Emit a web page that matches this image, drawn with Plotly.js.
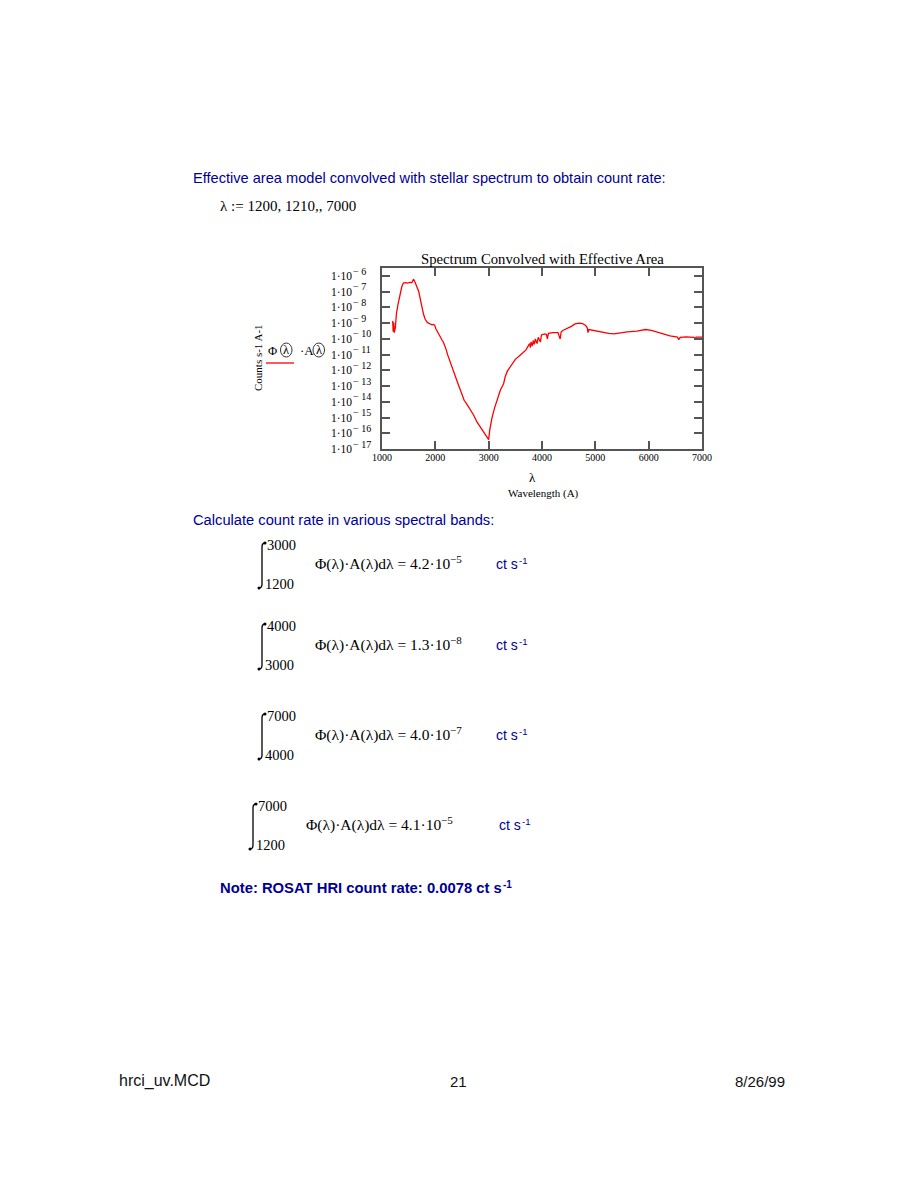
<!DOCTYPE html>
<html>
<head>
<meta charset="utf-8">
<script src="https://cdn.plot.ly/plotly-3.0.1.min.js"></script>
<style>
  body { margin:0; padding:0; background:#fff; }
  #chart { width:918px; height:1188px; }
</style>
</head>
<body>
<div id="chart"></div>
<script>
// ---- data ----
const wavelength = [
  1200,1210,1220,1230,1250,1270,1300,1320,1345,1370,1400,1440,1480,1520,1560,1590,1620,1650,1690,1720,
  1750,1780,1810,1850,1900,1940,1970,1990,2010,2060,2100,2130,2150,2170,2200,2230,2280,2340,2420,2480,
  2540,2600,2660,2720,2780,2840,2900,2960,3000,3020,3060,3110,3160,3220,3280,3310,3350,3400,3500,3600,
  3700,3750,3770,3782,3795,3820,3835,3857,3875,3907,3930,3970,3990,4050,4083,4101,4120,4200,4300,4340,
  4360,4400,4470,4550,4620,4700,4760,4820,4850,4862,4880,4950,5050,5150,5250,5350,5470,5600,5780,5940,
  6050,6220,6400,6540,6563,6590,6700,6850,6870,6890,7000
];
const countRate = [
  1.41e-9,2.82e-10,1.12e-9,2.51e-10,5.0e-10,3.98e-9,1.58e-8,3.16e-8,1.0e-7,2.0e-7,3.55e-7,3.8e-7,3.55e-7,3.98e-7,3.8e-7,6.31e-7,3.98e-7,2.0e-7,1.0e-7,3.16e-8,
  1.0e-8,3.55e-9,1.78e-9,1.12e-9,8.91e-10,7.94e-10,8.32e-10,7.08e-10,4.47e-10,2.0e-10,1.26e-10,7.94e-11,6.31e-11,3.55e-11,2.24e-11,1.0e-11,3.16e-12,7.08e-13,1.58e-13,4.47e-14,
  1.26e-14,6.31e-15,3.16e-15,1.41e-15,5.25e-16,2.51e-16,1.26e-16,6.31e-17,3.98e-17,1.58e-16,8.91e-16,3.98e-15,1.26e-14,5.62e-14,1.41e-13,3.98e-13,8.91e-13,1.58e-12,5.01e-12,1.0e-11,
  2.0e-11,3.98e-11,5.01e-11,2.82e-11,6.31e-11,3.55e-11,7.94e-11,4.47e-11,1.0e-10,5.01e-11,1.26e-10,6.31e-11,1.78e-10,2.09e-10,1.91e-10,1.0e-10,2.24e-10,2.51e-10,2.51e-10,1.0e-10,
  2.82e-10,3.55e-10,4.47e-10,6.31e-10,8.91e-10,1.0e-9,9.55e-10,7.08e-10,5.01e-10,2.51e-10,3.98e-10,3.55e-10,3.02e-10,2.51e-10,2.24e-10,2.09e-10,2.51e-10,2.82e-10,3.16e-10,3.98e-10,
  3.55e-10,2.29e-10,1.58e-10,1.32e-10,8.91e-11,1.26e-10,1.35e-10,1.26e-10,1.0e-10,1.32e-10,1.32e-10
];
const xTickVals = [1000,2000,3000,4000,5000,6000,7000];
const yExponents = [-6,-7,-8,-9,-10,-11,-12,-13,-14,-15,-16,-17];
const yTickVals = [1e-6,1e-7,1e-8,1e-9,1e-10,1e-11,1e-12,1e-13,1e-14,1e-15,1e-16,1e-17];
const yTickBase = '1\u00B710';

const chartTitle = 'Spectrum Convolved with Effective Area';
const yAxisLabel = 'Counts s-1 A-1';
const xAxisVar = '\u03BB';
const xAxisLabel = 'Wavelength (A)';

// integral results shown below the chart
const bandLower = [1200, 3000, 4000, 1200];
const bandUpper = [3000, 4000, 7000, 7000];
const bandMantissa = ['4.2', '1.3', '4.0', '4.1'];
const bandExponent = [-5, -8, -7, -5];

// ---- page / plot geometry (pixels) ----
const L = 382, R = 702, T = 268, B = 449;
const W = 918, H = 1188;
const px = v => (v - L) / (R - L);
const py = v => (B - v) / (B - T);

const serif = '"Liberation Serif", "Times New Roman", serif';
const sans = '"Liberation Sans", Arial, sans-serif';
const BLUE = '#000096';

const ctx = document.createElement('canvas').getContext('2d');
function textWidth(t, size, family, bold) {
  ctx.font = (bold ? 'bold ' : '') + size + 'px ' + family;
  return ctx.measureText(t).width;
}

const annotations = [];
const shapes = [];
// baseline-based text placement
function ann(text, x, baseline, size, family, color, xanchor, bold, extra) {
  annotations.push(Object.assign({
    text: text, xref: 'paper', yref: 'paper',
    x: px(x), y: py(baseline - 0.33 * size),
    xanchor: xanchor || 'left', yanchor: 'middle', showarrow: false,
    borderpad: 0, borderwidth: 0,
    font: { family: family, size: size, color: color || '#000', weight: bold ? 'bold' : 'normal' }
  }, extra || {}));
}
// text followed by a raised exponent drawn as its own smaller text
function annSup(base, sup, x, baseline, size, supSize, raise, family, color, bold, gap) {
  ann(base, x, baseline, size, family, color, 'left', bold);
  const w = textWidth(base, size, family, bold);
  ann(sup, x + w + (gap || 0), baseline - raise, supSize, family, color, 'left', bold);
}

// chart titles
ann(chartTitle, 542, 264, 14.7, serif, '#000', 'center');
annotations.push({ text: yAxisLabel, xref: 'paper', yref: 'paper', x: px(258), y: py(358),
  xanchor: 'center', yanchor: 'middle', textangle: -90, showarrow: false, borderwidth: 0,
  font: { family: serif, size: 11, color: '#000' } });
ann(xAxisVar, 532, 482, 13, serif, '#000', 'center');
ann(xAxisLabel, 543, 497, 11, serif, '#000', 'center');

// y tick labels "1·10^-n", placed on the y axis scale
const baseW = textWidth(yTickBase, 11.5, serif);
yExponents.forEach(e => {
  annotations.push({ text: yTickBase, xref: 'paper', yref: 'y', x: px(331), y: e,
    xanchor: 'left', yanchor: 'middle', showarrow: false, borderpad: 0, borderwidth: 0,
    font: { family: serif, size: 11.5, color: '#000' } });
  annotations.push({ text: '\u2212 ' + (-e), xref: 'paper', yref: 'y', x: px(331 + baseW + 1), y: e,
    yshift: 5, xanchor: 'left', yanchor: 'middle', showarrow: false, borderpad: 0, borderwidth: 0,
    font: { family: serif, size: 10, color: '#000' } });
});

// y-axis expression label with circled lambdas
ann('\u03A6', 268, 355, 12.5, serif);
ann('\u03BB', 286.2, 354, 12.5, serif, '#000', 'center');
ann('\u00B7A', 299.5, 355, 13, serif);
ann('\u03BB', 318.8, 354, 12.5, serif, '#000', 'center');
shapes.push({ type: 'circle', xref: 'paper', yref: 'paper',
  x0: px(280.5), x1: px(292), y0: py(357), y1: py(343), line: { color: '#333', width: 1 } });
shapes.push({ type: 'circle', xref: 'paper', yref: 'paper',
  x0: px(313), x1: px(324.5), y0: py(357), y1: py(343), line: { color: '#333', width: 1 } });
shapes.push({ type: 'line', xref: 'paper', yref: 'paper', x0: px(266), x1: px(294), y0: py(363), y1: py(363),
  line: { color: '#ff0000', width: 1.3 } });

// worksheet text
ann('Effective area model convolved with stellar spectrum to obtain count rate:', 193, 183, 14.6, sans, BLUE);
ann('\u03BB := 1200, 1210,, 7000', 220, 211, 15, serif);
ann('Calculate count rate in various spectral bands:', 193, 525, 14.7, sans, BLUE);

function integralSign(x, top, bottom) {
  const p = (a, b) => px(a) + ',' + py(b);
  shapes.push({ type: 'path', xref: 'paper', yref: 'paper',
    path: 'M' + p(x + 3, top) + ' Q' + p(x, top) + ' ' + p(x, top + 4) +
          ' L' + p(x, bottom - 4) + ' Q' + p(x, bottom) + ' ' + p(x - 3, bottom),
    line: { color: '#000', width: 1.3 } });
  shapes.push({ type: 'circle', xref: 'paper', yref: 'paper', fillcolor: '#000',
    x0: px(x + 1.5), x1: px(x + 4.5), y0: py(top + 1.5), y1: py(top - 1.5), line: { width: 0 } });
  shapes.push({ type: 'circle', xref: 'paper', yref: 'paper', fillcolor: '#000',
    x0: px(x - 4.5), x1: px(x - 1.5), y0: py(bottom + 1.5), y1: py(bottom - 1.5), line: { width: 0 } });
}

const blockY = [0, 81, 171, 261];
const blockX = [0, 0, 0, -9];
const ctX = [496, 496, 496, 499];
for (let i = 0; i < 4; i++) {
  const dy = blockY[i], dx = blockX[i];
  integralSign(262 + dx, 543 + dy, 588 + dy);
  ann(String(bandUpper[i]), 267 + dx, 549.5 + dy, 14.5, serif);
  ann(String(bandLower[i]), 265 + dx, 589 + dy, 14.5, serif);
  annSup('\u03A6(\u03BB)\u00B7A(\u03BB)d\u03BB = ' + bandMantissa[i] + '\u00B710', '\u2212' + (-bandExponent[i]),
         315 + dx, 569 + dy, 15.5, 11, 6, serif, '#000', false, 0);
  annSup('ct s', '-1', ctX[i], 569 + dy, 14, 9.5, 5, sans, BLUE, false, 1);
}

annSup('Note: ROSAT HRI count rate: 0.0078 ct s', '-1', 220, 893, 14.8, 10, 5, sans, BLUE, true, 1);

ann('hrci_uv.MCD', 119, 1086, 16, sans, '#111');
ann('21', 458, 1086, 15, sans, '#111', 'center');
ann('8/26/99', 785, 1086, 15, sans, '#111', 'right');

const axisCommon = {
  showline: true, linecolor: '#555', linewidth: 2, mirror: 'ticks',
  ticks: 'inside', tickcolor: '#555', tickwidth: 2,
  showgrid: false, zeroline: false, fixedrange: true
};

const trace = {
  x: wavelength, y: countRate, type: 'scatter', mode: 'lines',
  line: { color: '#ff0000', width: 1.3 }, hoverinfo: 'skip', showlegend: false
};

const layout = {
  width: W, height: H, autosize: false,
  paper_bgcolor: '#fff', plot_bgcolor: '#fff',
  margin: { l: L, r: W - R, t: T, b: H - B, pad: 0 },
  showlegend: false,
  xaxis: Object.assign({}, axisCommon, {
    range: [1000, 7000], tickvals: xTickVals, ticktext: xTickVals.map(String),
    ticklen: 8, tickfont: { family: serif, size: 10, color: '#000' },
    ticklabelstandoff: -2
  }),
  yaxis: Object.assign({}, axisCommon, {
    type: 'log', range: [-17, -5.49], tickvals: yTickVals,
    showticklabels: false, ticklen: 8
  }),
  annotations: annotations,
  shapes: shapes
};

Plotly.newPlot('chart', [trace], layout, { staticPlot: true, displayModeBar: false });
</script>
</body>
</html>
